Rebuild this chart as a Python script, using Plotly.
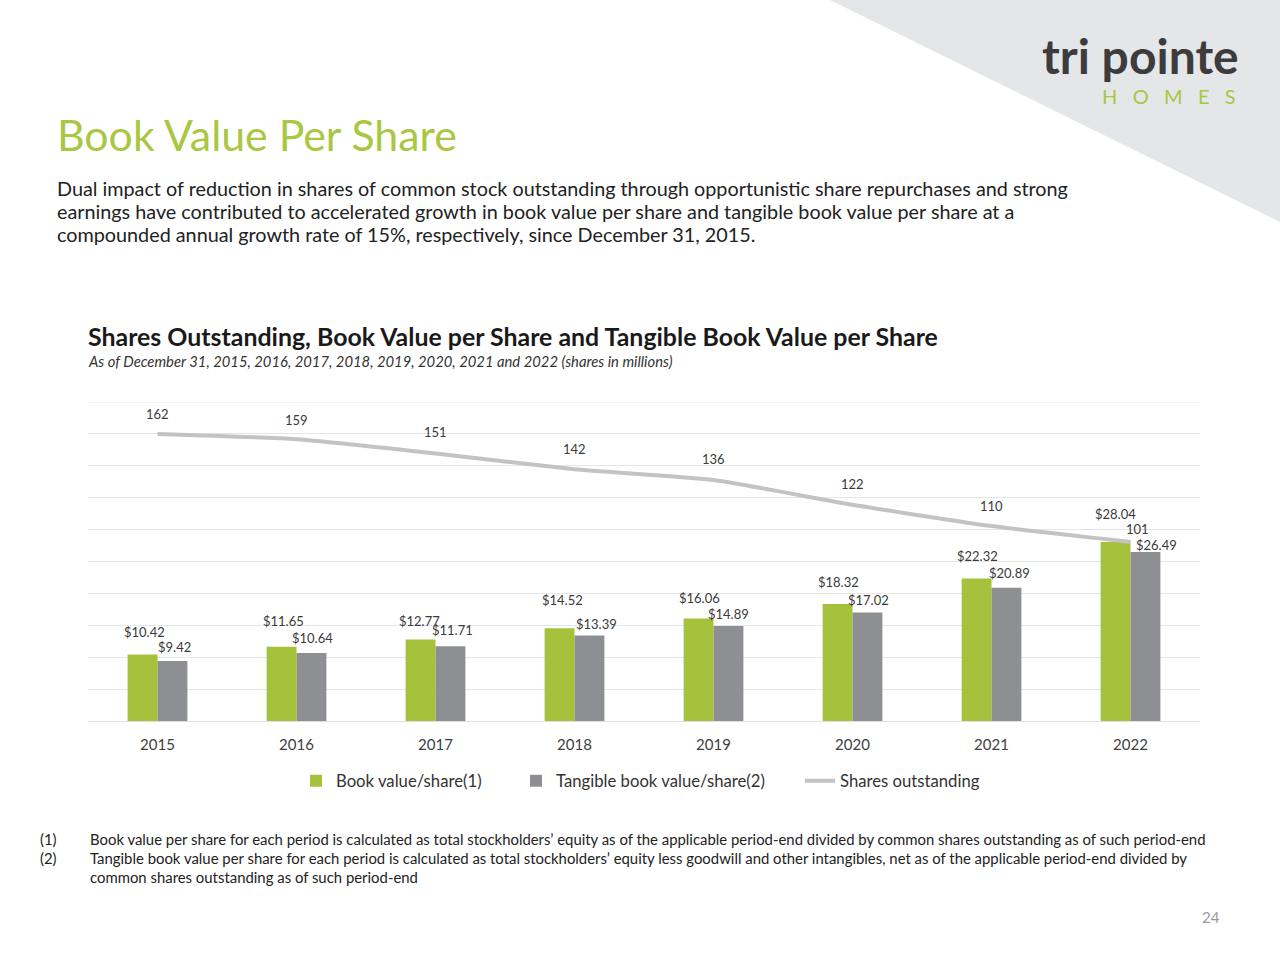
import plotly.graph_objects as go

years = ["2015", "2016", "2017", "2018", "2019", "2020", "2021", "2022"]
book_value = [10.42, 11.65, 12.77, 14.52, 16.06, 18.32, 22.32, 28.04]
tangible_value = [9.42, 10.64, 11.71, 13.39, 14.89, 17.02, 20.89, 26.49]
shares_out = [162, 159, 151, 142, 136, 122, 110, 101]

# label nudges (pixels) as placed in the original slide
book_dx = [-13, -13, -16, -12, -14, -14, -14, -15]
book_dy = [23, 26, 19, 28, 21, 22, 23, 28]
tang_dx = [17, 16, 17, 22, 15, 16, 18, 26]
tang_dy = [14, 15, 16, 12, 12, 12, 15, 7]
shr_dx = [0, 0, 0, 0, 0, 0, 0, 7]
shr_dy = [20, 19, 21, 20, 21, 21, 20, 13]

GREEN = "#a6c23c"
GRAY = "#8e8f93"
LINE = "#c3c3c3"
FONT = "Lato"
TXT = "#3a3a3a"

W, H = 1280, 960
PL, PR, PT, PB = 88, 1200, 402, 721


def px(x):
    return (x - PL) / (PR - PL)


def py(y):
    return (PB - y) / (PB - PT)


fig = go.Figure()
fig.add_trace(go.Bar(x=years, y=book_value, name="Book value/share(1)",
                     marker_color=GREEN, marker_line_width=0, legend="legend"))
fig.add_trace(go.Bar(x=years, y=tangible_value, name="Tangible book value/share(2)",
                     marker_color=GRAY, marker_line_width=0, legend="legend2"))
fig.add_trace(go.Scatter(x=years, y=shares_out, name="Shares outstanding", yaxis="y2",
                         mode="lines", legend="legend3",
                         line=dict(color=LINE, width=4, shape="spline", smoothing=0.5)))

ann = []
LBL = dict(family=FONT, size=13, color=TXT)
for i, v in enumerate(book_value):
    ann.append(dict(x=i, y=v, xref="x", yref="y", text=f"${v:.2f}", showarrow=False,
                    xshift=book_dx[i], yshift=book_dy[i], yanchor="middle", font=LBL))
for i, v in enumerate(tangible_value):
    ann.append(dict(x=i, y=v, xref="x", yref="y", text=f"${v:.2f}", showarrow=False,
                    xshift=tang_dx[i], yshift=tang_dy[i], yanchor="middle", font=LBL))
for i, v in enumerate(shares_out):
    ann.append(dict(x=i, y=v, xref="x", yref="y2", text=f"{v}", showarrow=False,
                    xshift=shr_dx[i], yshift=shr_dy[i], yanchor="middle", font=LBL))


def txt(x, y, text, size, color=TXT, anchor="left", yanchor="middle", **kw):
    ann.append(dict(x=px(x), y=py(y), xref="paper", yref="paper", text=text, showarrow=False,
                    xanchor=anchor, yanchor=yanchor, align="left",
                    font=dict(family=FONT, size=size, color=color, **kw)))


# page title & body
txt(55, 134, "Book Value Per Share", 42.8, color="#a9c743")
body = ["Dual impact of reduction in shares of common stock outstanding through opportunistic share repurchases and strong",
        "earnings have contributed to accelerated growth in book value per share and tangible book value per share at a",
        "compounded annual growth rate of 15%, respectively, since December 31, 2015."]
for i, line in enumerate(body):
    txt(55, 188 + i * 23, line, 19.8, color="#222222")

# chart title
txt(86, 336, "<b>Shares Outstanding, Book Value per Share and Tangible Book Value per Share</b>", 24.9, color="#1a1a1a")
txt(86, 361, "<i>As of December 31, 2015, 2016, 2017, 2018, 2019, 2020, 2021 and 2022 (shares in millions)</i>", 14.8, color="#333333")

# footnotes
FN = 14.9
txt(38, 839, "(1)", FN, color="#222222")
txt(88, 839, "Book value per share for each period is calculated as total stockholders\u2019 equity as of the applicable period-end divided by common shares outstanding as of such period-end", FN, color="#222222")
txt(38, 858, "(2)", FN, color="#222222")
txt(88, 858, "Tangible book value per share for each period is calculated as total stockholders\u2019 equity less goodwill and other intangibles, net as of the applicable period-end divided by", FN, color="#222222")
txt(88, 877, "common shares outstanding as of such period-end", FN, color="#222222")

# page number
txt(1222, 917, "24", 15, color="#9a9a9a", anchor="right")

# logo
txt(1241, 55, "tri pointe", 48, color="#3c3c3e", anchor="right", weight=700)
txt(1238, 96, "H   O   M   E   S", 20, color="#a9c743", anchor="right")

shapes = [
    dict(type="path", xref="paper", yref="paper", layer="below",
         path=f"M {px(830)} {py(0)} L {px(1280)} {py(0)} L {px(1280)} {py(222)} Z",
         fillcolor="#e5e6e7", line=dict(width=0)),
    dict(type="line", xref="paper", yref="y", x0=0, x1=1, y0=50, y1=50, layer="below",
         line=dict(color="#e6e6e6", width=1)),
]

LEG = dict(orientation="h", y=py(781), yanchor="middle", xanchor="left",
           font=dict(family=FONT, size=16.7, color="#333333"), bgcolor="rgba(0,0,0,0)",
           itemwidth=30)

fig.update_layout(
    width=W, height=H,
    margin=dict(l=PL, r=W - PR, t=PT, b=H - PB, pad=0),
    paper_bgcolor="white", plot_bgcolor="white",
    barmode="group", bargap=0.57, bargroupgap=0,
    font=dict(family=FONT, color=TXT),
    xaxis=dict(type="category", showgrid=False, showline=False, ticks="",
               tickfont=dict(family=FONT, size=15, color="#404040"), ticklabelstandoff=13),
    yaxis=dict(range=[0, 50], dtick=5, showticklabels=False, showgrid=True,
               gridcolor="#e6e6e6", gridwidth=1, zeroline=True, zerolinecolor="#e0e0e0",
               zerolinewidth=1),
    yaxis2=dict(range=[0, 180], overlaying="y", side="right", showticklabels=False,
                showgrid=False, zeroline=False),
    legend=dict(LEG, x=px(296)),
    legend2=dict(LEG, x=px(516)),
    legend3=dict(LEG, x=px(800)),
    annotations=ann,
    shapes=shapes,
    showlegend=True,
)

fig.write_html("out.html", config={"displayModeBar": False},
               post_script="document.body.style.margin='0';")
